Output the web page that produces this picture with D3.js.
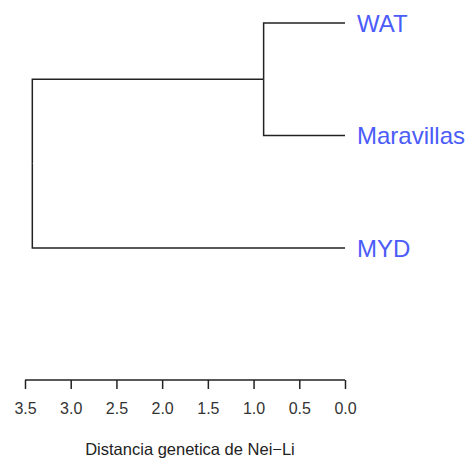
<!DOCTYPE html>
<html>
<head>
<meta charset="utf-8">
<script src="https://cdn.jsdelivr.net/npm/d3@7"></script>
<style>
  body { margin: 0; background: #fff; }
  svg { display: block; }
</style>
</head>
<body>
<div id="grafica"></div>
<script>
// dendrograma (distancia de Nei-Li)

let leafNames = ["WAT", "Maravillas", "MYD"]
// each merge: [left, right, height]; numbers >= 0 are leaves, "c0" is the first cluster
let merges = [
  [0, 1, 0.89],
  ["c0", 2, 3.42]
]
let tickValues = [3.5, 3.0, 2.5, 2.0, 1.5, 1.0, 0.5, 0.0]
let axisTitle = "Distancia genetica de Nei\u2212Li"

let width = 472
let height = 459

// build the nested tree from the merges
let clusters = []
merges.forEach((m, i) => {
  let kids = [m[0], m[1]].map(k => typeof k === "number"
    ? { name: leafNames[k], height: 0 }
    : clusters[+k.slice(1)])
  clusters[i] = { name: "c" + i, height: m[2], children: kids }
})
const root = d3.hierarchy(clusters[clusters.length - 1])

const xScale = d3.scaleLinear()
  .domain([0, 3.5])
  .range([345, 25])

const yScale = d3.scalePoint()
  .domain(leafNames)
  .range([23, 248])

// leaves get their row, inner nodes sit in the middle of their children
root.eachAfter(d => {
  d.px = xScale(d.data.height)
  d.py = d.children ? d3.mean(d.children, c => c.py) : yScale(d.data.name)
})

const svg = d3.select('#grafica')
  .append("svg")
  .attr("width", width)
  .attr("height", height)

svg.append("g")
  .selectAll("path")
  .data(root.links())
  .enter()
  .append("path")
  .attr("d", l => "M" + l.source.px + "," + l.source.py +
    "V" + l.target.py + "H" + l.target.px)
  .attr("fill", "none")
  .attr("stroke", "#222")
  .attr("stroke-width", 1.5)

svg.append("g")
  .selectAll("text")
  .data(root.leaves())
  .enter()
  .append("text")
  .attr("x", d => d.px + 12)
  .attr("y", d => d.py)
  .attr("dy", "0.36em")
  .attr("fill", "#4b5cf8")
  .style("font-family", "Liberation Sans, Arial, sans-serif")
  .style("font-size", "24px")
  .text(d => d.data.name)

const xAxis = d3.axisBottom(xScale)
  .tickValues(tickValues)
  .tickFormat(d3.format(".1f"))
  .tickSize(9)
  .tickPadding(14)

const gx = svg.append("g")
  .attr("transform", "translate(0,380)")
  .call(xAxis)

gx.select(".domain")
  .attr("d", "M" + xScale(3.5) + ",0H" + xScale(0))
  .attr("stroke", "#222")
  .attr("stroke-width", 1.5)
gx.selectAll(".tick line")
  .attr("stroke", "#222")
  .attr("stroke-width", 1.5)
gx.selectAll(".tick text")
  .attr("fill", "#333")
  .style("font-family", "Liberation Sans, Arial, sans-serif")
  .style("font-size", "16px")

svg.append("text")
  .attr("text-anchor", "middle")
  .attr("x", 190)
  .attr("y", 455)
  .attr("fill", "#222")
  .style("font-family", "Liberation Sans, Arial, sans-serif")
  .style("font-size", "16.5px")
  .text(axisTitle)
</script>
</body>
</html>
